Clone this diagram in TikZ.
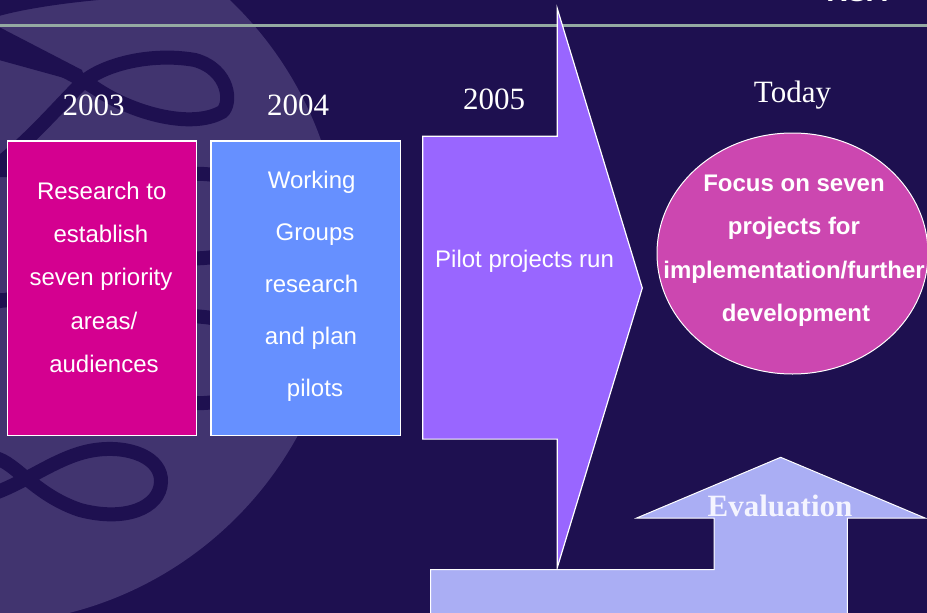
\documentclass[tikz,border=0pt]{standalone}
\usepackage{fontspec}
\setmainfont{Liberation Serif}
\newfontfamily\arialf{Liberation Sans}
\usetikzlibrary{shapes.geometric}
\definecolor{bg}{HTML}{1E1050}
\definecolor{disc}{HTML}{41346F}
\definecolor{rulec}{HTML}{94AAA2}
\definecolor{magbox}{HTML}{D40090}
\definecolor{bluebox}{HTML}{6690FF}
\definecolor{arrowp}{HTML}{9966FF}
\definecolor{ellc}{HTML}{CC47B0}
\definecolor{evalc}{HTML}{AAAEF4}
\definecolor{evaltext}{HTML}{F4F4FF}
\begin{document}
\begin{tikzpicture}[x=1pt,y=-1pt,
  yearlbl/.style={text=white,font=\fontsize{31}{31}\selectfont,anchor=base,inner sep=0pt},
  boxline/.style={text=white,font=\arialf\fontsize{24}{24}\selectfont,anchor=base,inner sep=0pt},
  ellline/.style={text=white,font=\arialf\bfseries\fontsize{24}{24}\selectfont,anchor=base,inner sep=0pt},
  panel/.style={draw=white,line width=1.2pt},
  ribbon/.style={draw=bg,line width=14pt}]
\fill[bg] (0,0) rectangle (927,613);
\useasboundingbox (0,0) rectangle (927,613);
% decorative disc with ribbons
\begin{scope}
  \clip (0,0) rectangle (927,613);
  \fill[disc] (-20,262) circle[radius=362pt];
  \clip (-20,262) circle[radius=362pt];
  \fill[bg] (-1,-1) -- (110,-1) .. controls (60,3) and (20,10) .. (-1,16) -- cycle;
  \fill[bg] (-1,27) -- (82,70) -- (86,84) -- (-1,60) -- cycle;
  \draw[ribbon] (-5,41) .. controls (40,58) and (70,72) .. (95,88)
     .. controls (130,112) and (190,130) .. (222,112)
     .. controls (232,104) and (230,70) .. (195,60)
     .. controls (150,52) and (100,65) .. (80,85)
     .. controls (55,110) and (30,140) .. (-5,167);
  \draw[ribbon] (-5,302) .. controls (60,290) and (130,262) .. (204,258)
     .. controls (265,255) and (265,176) .. (204,174)
     .. controls (140,172) and (60,170) .. (-5,170);
  \draw[ribbon] (-5,300) .. controls (80,302) and (150,312) .. (204,317)
     .. controls (272,323) and (272,400) .. (204,403)
     .. controls (150,405) and (80,400) .. (40,390);
  \draw[ribbon] (-5,458) .. controls (15,462) and (35,495) .. (80,510)
     .. controls (125,522) and (160,508) .. (161,482)
     .. controls (162,458) and (130,445) .. (95,450)
     .. controls (60,455) and (30,480) .. (-5,493);
\end{scope}
% top rule
\fill[rulec] (0,23.5) rectangle (927,26.5);
% logo text (cut off at the top, as in the original)
\node[anchor=base,text=white,font=\arialf\bfseries\fontsize{29}{29}\selectfont,inner sep=0pt] (logo) at (857,1.2) {RSA};
% boxes
\node[panel,fill=magbox,minimum width=189.4pt,minimum height=294.3pt,inner sep=0pt] (box1) at (102,288.05) {};
\node[panel,fill=bluebox,minimum width=189.7pt,minimum height=294.3pt,inner sep=0pt] (box2) at (305.85,288.05) {};
% 2005 arrow
\draw[panel,fill=arrowp] (422.7,136.2) -- (557.3,136.2) -- (557.3,8.6) -- (642.3,288)
  -- (557.3,567.5) -- (557.3,439.1) -- (422.7,439.1) -- cycle;
% today ellipse
\draw[line width=1pt,draw=white,fill=ellc] (792.5,253.5) ellipse[x radius=135.5pt,y radius=120.5pt];
% evaluation arrow
\draw[line width=1pt,draw=white,fill=evalc] (430.5,625) -- (430.5,569.5) -- (714,569.5) -- (714,518)
  -- (636.7,518) -- (780.7,457.3) -- (925,518) -- (847.3,518) -- (847.3,625) -- cycle;
% year labels
\node[yearlbl] (y2003) at (93.5,115) {2003};
\node[yearlbl] (y2004) at (298,115) {2004};
\node[yearlbl] (y2005) at (494,109) {2005};
\node[yearlbl] (ytoday) at (792.5,102) {Today};
% box 1 text
\node[boxline] (a1) at (101.7,199) {Research to};
\node[boxline] (a2) at (101,242.4) {establish};
\node[boxline] (a3) at (101,285.8) {seven priority};
\node[boxline] (a4) at (104,329.2) {areas/};
\node[boxline] (a5) at (104,372.6) {audiences};
% box 2 text
\node[boxline] (b1) at (311.7,188) {Working};
\node[boxline] (b2) at (315,240) {Groups};
\node[boxline] (b3) at (311.5,292) {research};
\node[boxline] (b4) at (311,344) {and plan};
\node[boxline] (b5) at (315,396) {pilots};
% arrow text
\node[boxline,anchor=base west] (c1) at (435,267) {Pilot projects run};
% ellipse text
\node[ellline] (d1) at (794,191) {Focus on seven};
\node[ellline] (d2) at (794,234.5) {projects for};
\node[ellline] (d3) at (794,278) {implementation/further};
\node[ellline] (d4) at (796,321.5) {development};
% evaluation
\node[anchor=base,text=evaltext,font=\bfseries\fontsize{31}{31}\selectfont,inner sep=0pt] (evaltxt) at (780,516) {Evaluation};
\end{tikzpicture}
\end{document}
